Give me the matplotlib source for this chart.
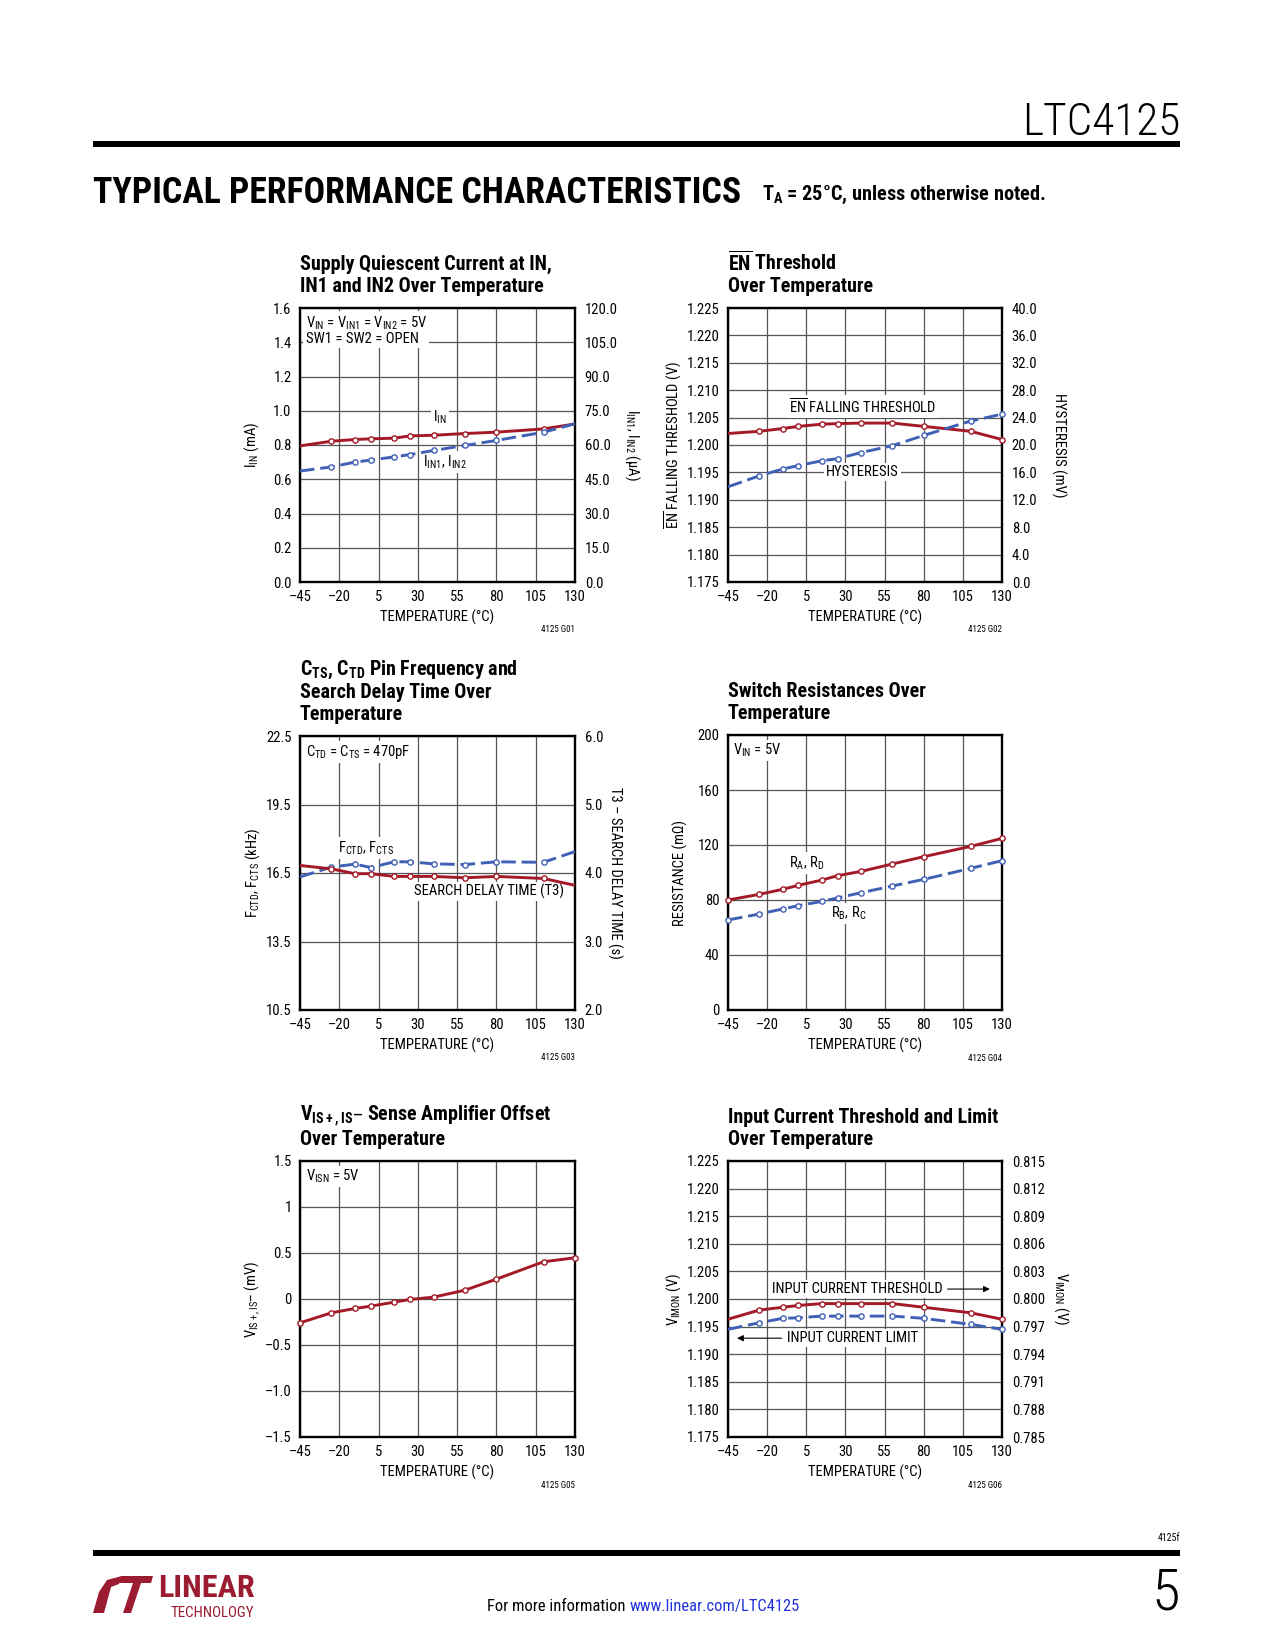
import matplotlib
matplotlib.use("Agg")
import matplotlib.pyplot as plt
from matplotlib.patches import Polygon, Rectangle

# condensed faces first, whichever is installed gets used
plt.rcParams['font.family'] = ['Roboto Condensed', 'Liberation Sans Narrow', 'DejaVu Sans Condensed',
                               'Roboto', 'DejaVu Sans']
plt.rcParams['font.stretch'] = 'condensed'

W, H = 1275, 1650
RED = '#A31A26'
BLUE = '#3F60B5'
GRID = '#555555'

# temperatures of the measured points (same for all six graphs)
temps = [-45, -25, -10, 0, 15, 25, 40, 60, 80, 110, 130]
temp_ticks = [-45, -20, 5, 30, 55, 80, 105, 130]
temp_labels = ['–45', '–20', '5', '30', '55', '80', '105', '130']

# G01 supply quiescent current
g01_iin = [0.795, 0.822, 0.832, 0.836, 0.840, 0.853, 0.857, 0.867, 0.875, 0.894, 0.923]
g01_iin12 = [48.6, 50.4, 52.5, 53.4, 54.8, 55.8, 57.6, 59.8, 62.0, 65.6, 69.3]
g01_left = [0.0, 0.2, 0.4, 0.6, 0.8, 1.0, 1.2, 1.4, 1.6]
g01_left_lbl = ['0.0', '0.2', '0.4', '0.6', '0.8', '1.0', '1.2', '1.4', '1.6']
g01_right = [0, 15, 30, 45, 60, 75, 90, 105, 120]
g01_right_lbl = ['0.0', '15.0', '30.0', '45.0', '60.0', '75.0', '90.0', '105.0', '120.0']

# G02 EN threshold
g02_fall = [1.2021, 1.2025, 1.2030, 1.2034, 1.2038, 1.2039, 1.2040, 1.2040, 1.2034, 1.2025, 1.2010]
g02_hyst = [13.9, 15.5, 16.5, 17.0, 17.7, 18.0, 18.9, 19.9, 21.4, 23.5, 24.5]
g02_left = [1.175, 1.180, 1.185, 1.190, 1.195, 1.200, 1.205, 1.210, 1.215, 1.220, 1.225]
g02_left_lbl = ['1.175', '1.180', '1.185', '1.190', '1.195', '1.200', '1.205', '1.210', '1.215', '1.220', '1.225']
g02_right = [0, 4, 8, 12, 16, 20, 24, 28, 32, 36, 40]
g02_right_lbl = ['0.0', '4.0', '8.0', '12.0', '16.0', '20.0', '24.0', '28.0', '32.0', '36.0', '40.0']

# G03 CTS/CTD frequency and search delay
g03_freq = [16.33, 16.76, 16.89, 16.74, 16.99, 16.99, 16.90, 16.87, 16.99, 16.97, 17.44]
g03_t3 = [4.11, 4.06, 3.99, 3.99, 3.95, 3.95, 3.95, 3.93, 3.95, 3.92, 3.82]
g03_left = [10.5, 13.5, 16.5, 19.5, 22.5]
g03_left_lbl = ['10.5', '13.5', '16.5', '19.5', '22.5']
g03_right = [2, 3, 4, 5, 6]
g03_right_lbl = ['2.0', '3.0', '4.0', '5.0', '6.0']

# G04 switch resistances
g04_rad = [80.0, 84.1, 87.8, 90.7, 94.5, 97.7, 100.8, 106.2, 111.5, 119.0, 124.8]
g04_rbc = [65.5, 69.8, 73.5, 75.9, 79.0, 81.5, 85.3, 90.2, 95.0, 103.0, 108.6]
g04_left = [0, 40, 80, 120, 160, 200]
g04_left_lbl = ['0', '40', '80', '120', '160', '200']

# G05 sense amplifier offset
g05_offset = [-0.259, -0.150, -0.103, -0.078, -0.034, -0.005, 0.020, 0.096, 0.216, 0.405, 0.448]
g05_left = [-1.5, -1.0, -0.5, 0, 0.5, 1.0, 1.5]
g05_left_lbl = ['–1.5', '–1.0', '–0.5', '0', '0.5', '1', '1.5']

# G06 input current threshold and limit
g06_thresh = [0.7978, 0.7988, 0.7991, 0.7993, 0.7995, 0.7995, 0.7995, 0.7995, 0.7991, 0.7985, 0.7978]
g06_limit = [1.1945, 1.1957, 1.1965, 1.1966, 1.1969, 1.1969, 1.1969, 1.1969, 1.1965, 1.1954, 1.1945]
g06_left = g02_left
g06_left_lbl = g02_left_lbl
g06_right = [0.785, 0.788, 0.791, 0.794, 0.797, 0.800, 0.803, 0.806, 0.809, 0.812, 0.815]
g06_right_lbl = ['0.785', '0.788', '0.791', '0.794', '0.797', '0.800', '0.803', '0.806', '0.809', '0.812', '0.815']

fig = plt.figure(figsize=(W / 100, H / 100), dpi=100)
renderer = fig.canvas.get_renderer()


def fx(px):
    return px / W


def fy(py):
    return 1 - py / H


# scale a text so it is as wide as in the reference page
def fit(t, width_px):
    w = t.get_window_extent(renderer).width
    t.set_fontsize(t.get_fontsize() * width_px / w)
    return t


titles = []


# make an axes from pixel box, set grid, ticks, title, labels
def panel(x0, y0, x1, y1, title, title_w, ylabel, ylab_x, yticks, ylabels, code):
    ax = fig.add_axes([fx(x0), fy(y1), (x1 - x0) / W, (y1 - y0) / H])
    ax.set_xlim(-45, 130)
    ax.set_xticks(temp_ticks)
    ax.set_xticklabels(temp_labels)
    ax.set_ylim(yticks[0], yticks[-1])
    ax.set_yticks(yticks)
    ax.set_yticklabels(ylabels)
    ax.grid(True, color=GRID, lw=0.9)
    ax.tick_params(length=0, labelsize=10.5, pad=6)
    for s in ax.spines.values():
        s.set_linewidth(1.7)
    ax.set_xlabel('TEMPERATURE (°C)', fontsize=10.5, va='top')
    ax.xaxis.set_label_coords(0.5, -0.1)
    ax.set_ylabel(ylabel, fontsize=10.5, va='center')
    ax.yaxis.set_label_coords(ylab_x, 0.5)
    t = ax.text(0.0, 1.045, title, transform=ax.transAxes, ha='left', va='bottom',
                fontsize=13.5, fontweight='bold', linespacing=1.15)
    titles.append((t, title_w))
    ax.text(1.0, -0.175, code, transform=ax.transAxes, ha='right', va='center', fontsize=6.5)
    return ax


def right_axis(ax, yticks, ylabels, label, lab_x):
    ax2 = ax.twinx()
    ax2.set_ylim(yticks[0], yticks[-1])
    ax2.set_yticks(yticks)
    ax2.set_yticklabels(ylabels)
    ax2.tick_params(length=0, labelsize=10.5, pad=7)
    for s in ax2.spines.values():
        s.set_visible(False)
    ax2.set_ylabel(label, rotation=270, fontsize=10.5, va='center')
    ax2.yaxis.set_label_coords(lab_x, 0.5)
    return ax2


def curve(ax, y, color, dashed, marks):
    kw = dict(color=color, lw=2.1, marker='o', ms=3.8, mfc='white', mec=color, mew=1.0,
              markevery=marks, zorder=4, clip_on=False, solid_capstyle='butt')
    if dashed:
        kw['dashes'] = (5, 2)
    ax.plot(temps, y, **kw)


def label(ax, x, y, s, **kw):
    ax.text(x, y, s, fontsize=10.5, zorder=3,
            bbox=dict(facecolor='white', edgecolor='none', pad=1.5), **kw)


def sub(a, b):
    return r'$\mathregular{%s_{%s}}$' % (a, b)


inner = list(range(1, 10))

# --- G01
ax = panel(300, 308, 575, 582, 'Supply Quiescent Current at IN,\nIN1 and IN2 Over Temperature', 253,
           sub('I', 'IN') + ' (mA)', -0.175, g01_left, g01_left_lbl, '4125 G01')
ax2 = right_axis(ax, g01_right, g01_right_lbl, sub('I', 'IN1') + ', ' + sub('I', 'IN2') + ' (µA)', 1.21)
curve(ax, g01_iin, RED, False, inner)
curve(ax2, g01_iin12, BLUE, True, inner)
label(ax, 0.02, 0.975,
      sub('V', 'IN') + ' = ' + sub('V', 'IN1') + ' = ' + sub('V', 'IN2') + ' = 5V\nSW1 = SW2 = OPEN',
      transform=ax.transAxes, va='top', ha='left', linespacing=1.0)
label(ax, 44, 0.96, sub('I', 'IN'), ha='center', va='center')
label(ax, 47, 0.70, sub('I', 'IN1') + ', ' + sub('I', 'IN2'), ha='center', va='center')

# --- G02
ax = panel(728, 308, 1002, 582, r'$\mathregular{\overline{EN}}$ Threshold' + '\nOver Temperature', 143,
           r'$\mathregular{\overline{EN}}$ FALLING THRESHOLD (V)', -0.2, g02_left, g02_left_lbl, '4125 G02')
ax2 = right_axis(ax, g02_right, g02_right_lbl, 'HYSTERESIS (mV)', 1.208)
curve(ax, g02_fall, RED, False, list(range(1, 11)))
curve(ax2, g02_hyst, BLUE, True, list(range(1, 11)))
label(ax, 41, 1.2070, r'$\mathregular{\overline{EN}}$ FALLING THRESHOLD', ha='center', va='center')
label(ax, 41, 1.1950, 'HYSTERESIS', ha='center', va='center')

# --- G03
ax = panel(300, 736, 575, 1010,
           sub('C', 'TS') + ', ' + sub('C', 'TD') + ' Pin Frequency and\nSearch Delay Time Over\nTemperature', 221,
           sub('F', 'CTD') + ', ' + sub('F', 'CTS') + ' (kHz)', -0.172, g03_left, g03_left_lbl, '4125 G03')
ax2 = right_axis(ax, g03_right, g03_right_lbl, 'T3 – SEARCH DELAY TIME (s)', 1.146)
curve(ax, g03_freq, BLUE, True, inner)
curve(ax2, g03_t3, RED, False, inner)
label(ax, 0.02, 0.975, sub('C', 'TD') + ' = ' + sub('C', 'TS') + ' = 470pF',
      transform=ax.transAxes, va='top', ha='left')
label(ax, -3, 17.6, sub('F', 'CTD') + ', ' + sub('F', 'CTS'), ha='center', va='center')
label(ax, 75, 15.7, 'SEARCH DELAY TIME (T3)', ha='center', va='center')

# --- G04
ax = panel(728, 735, 1002, 1010, 'Switch Resistances Over\nTemperature', 199,
           'RESISTANCE (mΩ)', -0.175, g04_left, g04_left_lbl, '4125 G04')
curve(ax, g04_rad, RED, False, list(range(11)))
curve(ax, g04_rbc, BLUE, True, list(range(11)))
label(ax, 0.02, 0.975, sub('V', 'IN') + ' = 5V', transform=ax.transAxes, va='top', ha='left')
label(ax, 5, 107, sub('R', 'A') + ', ' + sub('R', 'D'), ha='center', va='center')
label(ax, 32, 70, sub('R', 'B') + ', ' + sub('R', 'C'), ha='center', va='center')

# --- G05
ax = panel(300, 1161, 575, 1437, sub('V', 'IS+,IS') + '– Sense Amplifier Offset\nOver Temperature', 248,
           sub('V', 'IS+,IS') + '– (mV)', -0.171, g05_left, g05_left_lbl, '4125 G05')
curve(ax, g05_offset, RED, False, list(range(11)))
label(ax, 0.02, 0.975, sub('V', 'ISN') + ' = 5V', transform=ax.transAxes, va='top', ha='left')

# --- G06
ax = panel(728, 1161, 1002, 1437, 'Input Current Threshold and Limit\nOver Temperature', 271,
           sub('V', 'IMON') + ' (V)', -0.2, g06_left, g06_left_lbl, '4125 G06')
ax2 = right_axis(ax, g06_right, g06_right_lbl, sub('V', 'IMON') + ' (V)', 1.216)
curve(ax2, g06_thresh, RED, False, list(range(1, 11)))
curve(ax, g06_limit, BLUE, True, list(range(1, 11)))
label(ax, 92, 1.2018, 'INPUT CURRENT THRESHOLD', ha='right', va='center')
ax.annotate('', xy=(124, 1.2018), xytext=(93.5, 1.2018),
            arrowprops=dict(arrowstyle='-|>', color='black', lw=0.8, mutation_scale=9))
label(ax, -7.5, 1.1929, 'INPUT CURRENT LIMIT', ha='left', va='center')
ax.annotate('', xy=(-41, 1.1929), xytext=(-9, 1.1929),
            arrowprops=dict(arrowstyle='-|>', color='black', lw=0.8, mutation_scale=9))

# chart titles: one common size, fitted to the reference widths
sizes = []
for t, w in titles:
    fit(t, w)
    sizes.append(t.get_fontsize())
for t, w in titles:
    t.set_fontsize(sum(sizes) / len(sizes))

# --- page header
fit(fig.text(fx(1180), fy(135), 'LTC4125', ha='right', va='baseline', fontsize=33,
             fontweight='light'), 158)
fig.add_artist(Rectangle((fx(93), fy(147)), (1180 - 93) / W, 6 / H, transform=fig.transFigure,
                         color='black', lw=0))
fit(fig.text(fx(93), fy(203), 'TYPICAL PERFORMANCE CHARACTERISTICS', ha='left', va='baseline',
             fontsize=24, fontweight='heavy'), 650)
fit(fig.text(fx(762), fy(200), sub('T', 'A') + ' = 25°C, unless otherwise noted.', ha='left',
             va='baseline', fontsize=12, fontweight='bold'), 283)

# --- page footer
fig.text(fx(1180), fy(1541), '4125f', ha='right', va='baseline', fontsize=7)
fig.add_artist(Rectangle((fx(93), fy(1556)), (1180 - 93) / W, 6 / H, transform=fig.transFigure,
                         color='black', lw=0))
fig.text(fx(1180), fy(1610), '5', ha='right', va='baseline', fontsize=42, fontweight='light')
info = fit(fig.text(fx(487), fy(1611), 'For more information ', ha='left', va='baseline', fontsize=11), 141)
x_end = info.get_window_extent(renderer).x1
fig.text(x_end / W, fy(1611), 'www.linear.com/LTC4125', ha='left', va='baseline',
         fontsize=info.get_fontsize(), color='#2233DD')

# logo
LOGO = '#9B1B30'
swoosh = [(93, 1613), (99, 1592), (107, 1580), (122, 1576), (119, 1584), (111, 1587), (104, 1613)]
tbar = [(121, 1576), (153, 1576), (151, 1583), (119, 1583)]
tstem = [(133, 1583), (141, 1583), (131, 1613), (123, 1613)]
for shape in (swoosh, tbar, tstem):
    fig.add_artist(Polygon([(fx(a), fy(b)) for a, b in shape], closed=True,
                           transform=fig.transFigure, color=LOGO, lw=0))
fit(fig.text(fx(158), fy(1597), 'LINEAR', ha='left', va='baseline', fontsize=21,
             fontweight='bold', color=LOGO), 96)
fit(fig.text(fx(171), fy(1617), 'TECHNOLOGY', ha='left', va='baseline', fontsize=8.5, color=LOGO), 84)

fig.savefig('out.png', dpi=100, facecolor='white')
